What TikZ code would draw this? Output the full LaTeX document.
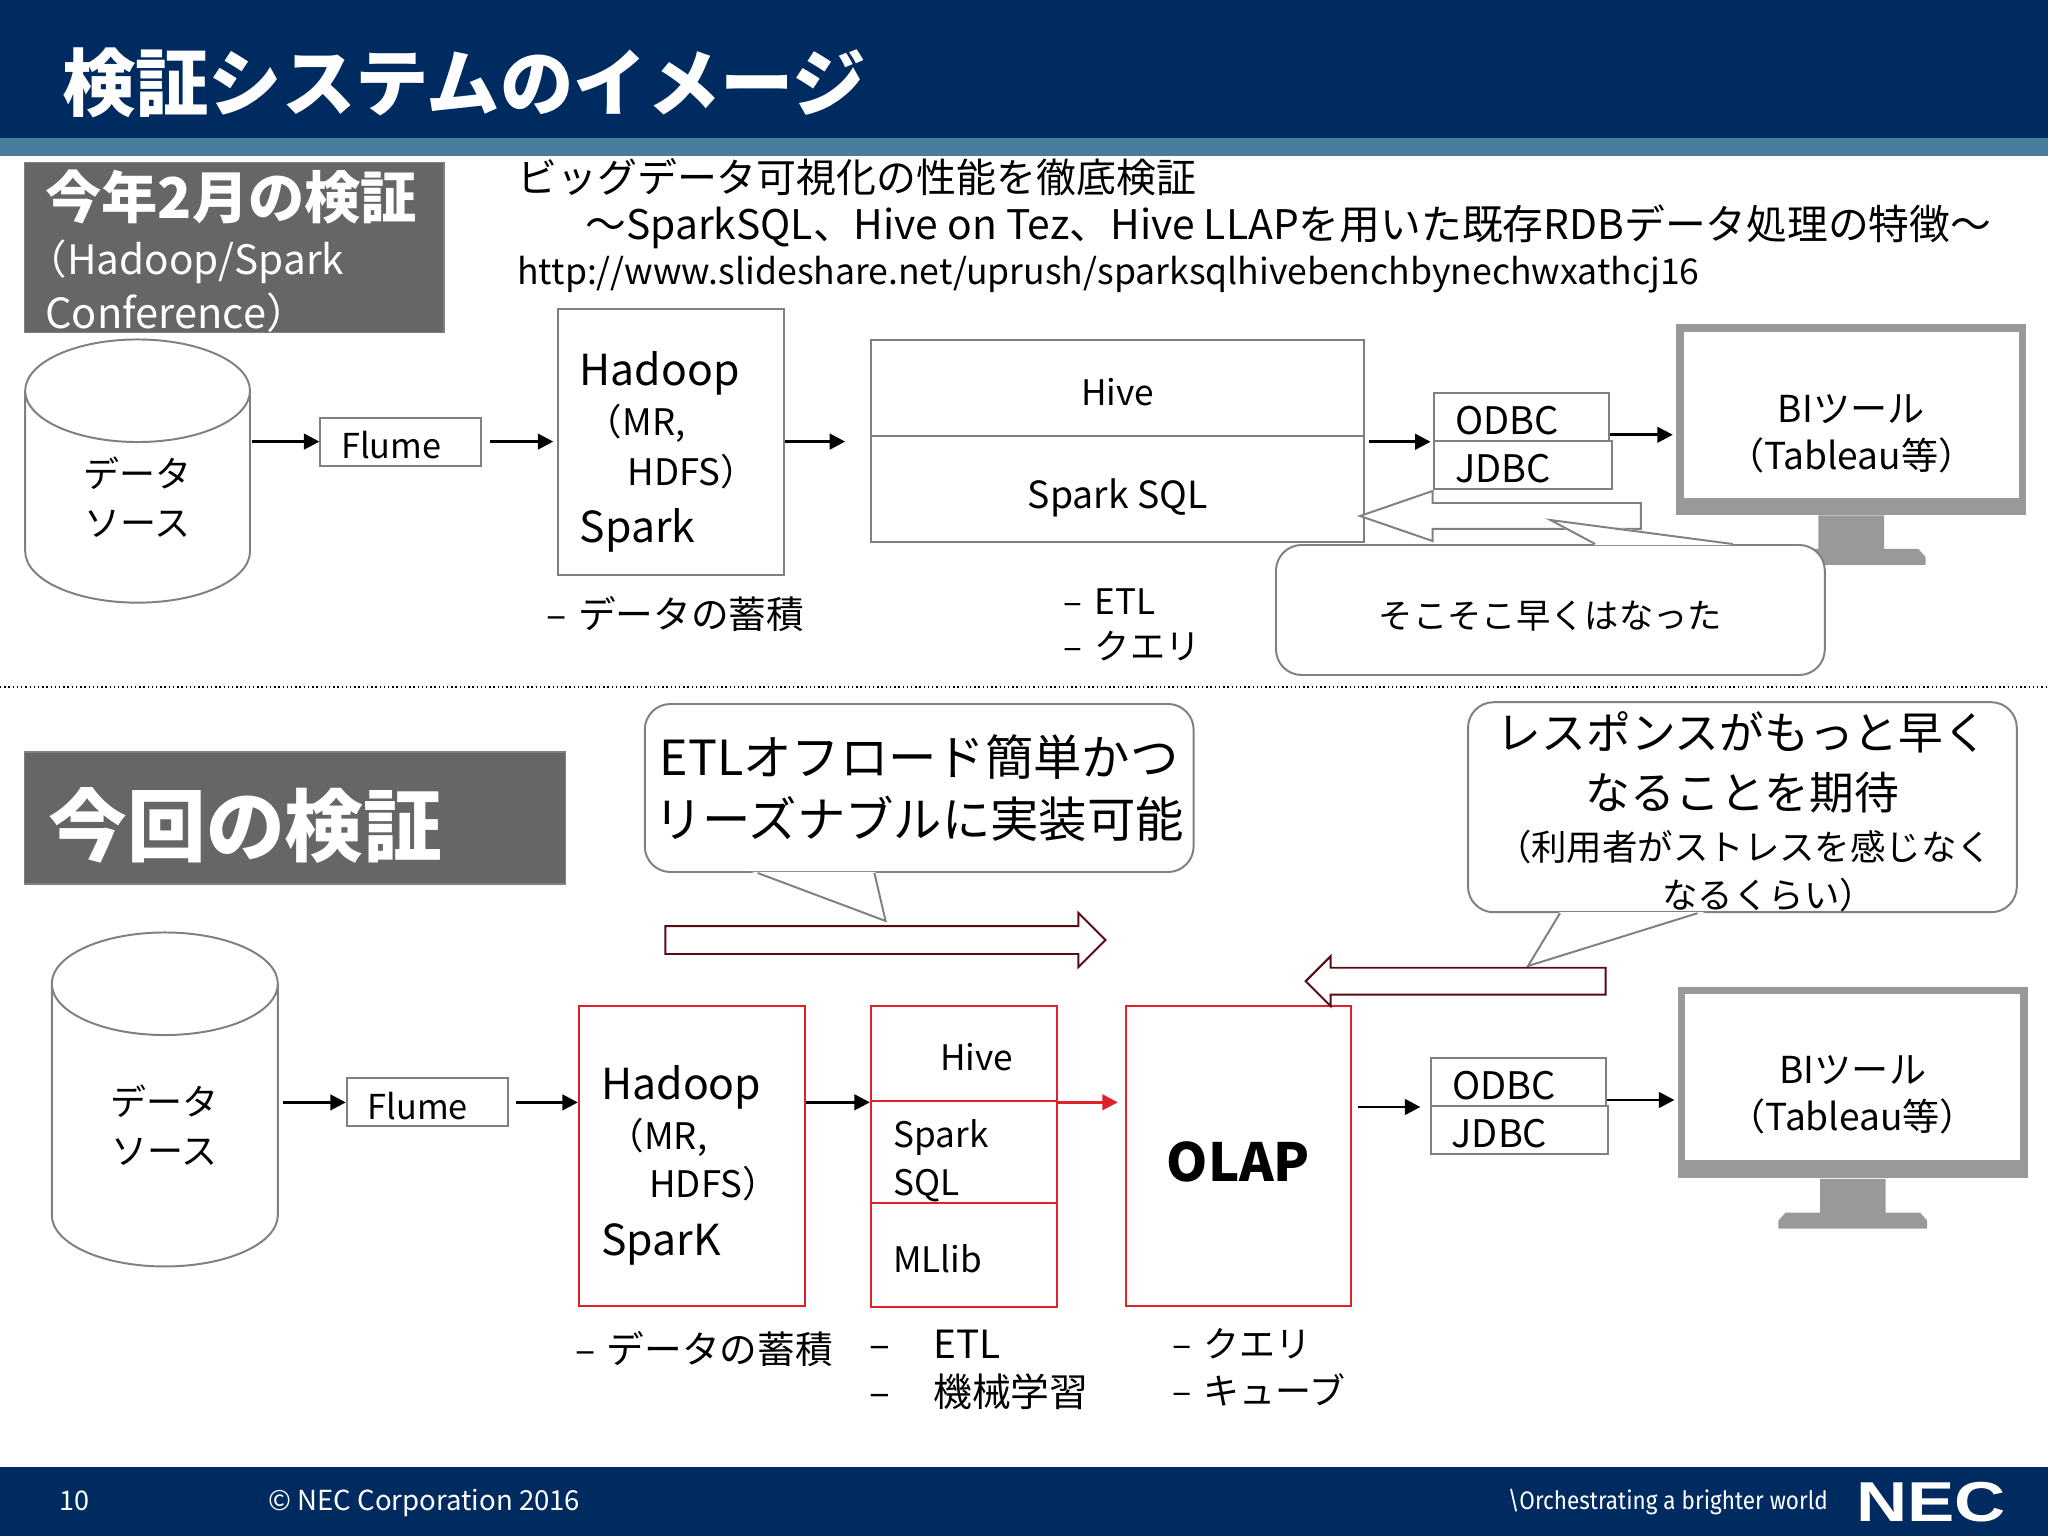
\documentclass[tikz,border=0pt]{standalone}
\usepackage{fontspec}
\setmainfont{Noto Sans CJK JP}
\newfontfamily\logofont{Liberation Sans}
\newfontfamily\slogfont{Fira Sans}
\usetikzlibrary{shapes.geometric, shapes.arrows, arrows.meta}
\definecolor{navyBar}{HTML}{002B60}
\definecolor{steelBar}{HTML}{4A7C9E}
\definecolor{slateBox}{HTML}{666666}
\definecolor{lineGray}{HTML}{808080}
\definecolor{monitorGray}{HTML}{999999}
\definecolor{lineRed}{HTML}{E0202A}
\definecolor{darkRed}{HTML}{5A0A14}
\tikzstyle{bar} = [rectangle, minimum width=25.6cm, inner sep=0pt, outer sep=0pt]
\tikzstyle{slate} = [rectangle, draw=lineGray, line width=.4pt, fill=slateBox, inner sep=0pt]
\tikzstyle{plainBox} = [rectangle, draw=lineGray, line width=.7pt, fill=white, inner sep=0pt, font=\fontsize{12.5}{16}\selectfont, align=center, text height=.43cm, text depth=0pt]
\tikzstyle{redBox} = [rectangle, draw=lineRed, line width=.8pt, fill=white, inner sep=0pt, font=\fontsize{12.5}{17}\selectfont, align=center, text height=.43cm, text depth=0pt]
\tikzstyle{tagBox} = [plainBox, inner xsep=.26cm, minimum height=.6cm, text width=1.66cm, align=left, font=\fontsize{13.5}{16}\selectfont, text height=.44cm]
\tikzstyle{flumeBox} = [tagBox, text width=1.49cm, font=\fontsize{12.2}{16}\selectfont, text height=.42cm]
\tikzstyle{stackBox} = [redBox, inner xsep=.275cm, text width=1.775cm, align=left]
\tikzstyle{database} = [cylinder, shape border rotate=90, aspect=.95, draw=lineGray, line width=.7pt, fill=white, inner sep=0pt, font=\fontsize{12.8}{17.4}\selectfont, align=center]
\tikzstyle{monitor} = [rectangle, fill=monitorGray, inner sep=0pt, minimum width=4.375cm, minimum height=2.39cm]
\tikzstyle{screen} = [rectangle, fill=white, inner sep=0pt, minimum width=4.19cm, minimum height=2.07cm]
\tikzstyle{biText} = [inner sep=0pt, font=\fontsize{13.2}{17}\selectfont, align=center]
\tikzstyle{bubble} = [rectangle, rounded corners=.32cm, draw=lineGray, line width=.7pt, fill=white, inner sep=0pt, minimum width=6.86cm, align=center]
\tikzstyle{hollowArrow} = [single arrow, single arrow head indent=0pt, fill=white, inner sep=0pt, line width=.7pt]
\tikzstyle{bodyText} = [inner sep=0pt, anchor=west, align=left, font=\fontsize{12.5}{16}\selectfont]
\tikzstyle{bigText} = [inner sep=0pt, anchor=west, font=\fontsize{15.2}{18}\selectfont]
\tikzstyle{smallText} = [inner sep=0pt, anchor=west, font=\fontsize{13}{16}\selectfont]
\tikzstyle{arrow} = [-{Triangle[length=5.5pt,width=5.5pt]}, line width=1pt]
\begin{document}
\begin{tikzpicture}[node distance=2cm]
\useasboundingbox (0,0) rectangle (25.6,-19.2);

\node (titleBar) [bar, fill=navyBar, minimum height=1.725cm, xshift=12.8cm, yshift=-.8625cm] {};
\node (bandBar) [bar, fill=steelBar, minimum height=.225cm, below of=titleBar, yshift=1.025cm] {};
\node (footerBar) [bar, fill=navyBar, minimum height=.8625cm, xshift=12.8cm, yshift=-18.77cm] {};
\node (titleText) [inner sep=0pt, anchor=west, text=white, xshift=.77cm, yshift=-1.03cm, font=\fontsize{26.1}{30}\selectfont\bfseries] {検証システムのイメージ};

% Feb test
\node (slateOld) [slate, minimum width=5.24cm, minimum height=2.125cm, xshift=2.93cm, yshift=-3.09cm] {};
\node (slateOldTitle) [left of=slateOld, inner sep=0pt, anchor=west, text=white, xshift=-.37cm, yshift=.625cm, font=\fontsize{20}{24}\selectfont\bfseries] {今年2月の検証};
\node (slateOldSub) [left of=slateOld, inner sep=0pt, anchor=west, text=white, xshift=-.6cm, yshift=-.18cm, font=\fontsize{14.4}{18}\selectfont] {（Hadoop/Spark};
\node (slateOldConf) [left of=slateOld, inner sep=0pt, anchor=west, text=white, xshift=-.37cm, yshift=-.82cm, font=\fontsize{14.8}{18}\selectfont] {Conference）};

\node (refLine1) [inner sep=0pt, anchor=west, xshift=6.46cm, yshift=-2.21cm, font=\fontsize{14.2}{18}\selectfont] {ビッグデータ可視化の性能を徹底検証};
\node (refLine2) [inner sep=0pt, anchor=west, xshift=7.31cm, yshift=-2.84cm, font=\fontsize{14.5}{18}\selectfont] {～SparkSQL、Hive on Tez、Hive LLAPを用いた既存RDBデータ処理の特徴～};
\node (refLine3) [inner sep=0pt, anchor=west, xshift=6.46cm, yshift=-3.43cm, font=\fontsize{12.65}{16}\selectfont] {http://www.slideshare.net/uprush/sparksqlhivebenchbynechwxathcj16};

\node (dbOld) [database, minimum width=2.81cm, minimum height=3.29cm, xshift=1.72cm, yshift=-6.215cm] {データ\\ソース};
\node (flumeOld) [flumeBox, right of=dbOld, xshift=1.29cm, yshift=.695cm] {Flume};
\node (hadoopOld) [plainBox, minimum width=2.825cm, minimum height=3.325cm, right of=flumeOld, xshift=1.38cm] {};
\node (hadoopOldName) [left of=hadoopOld, bigText, xshift=.85cm, yshift=.85cm] {Hadoop};
\node (hadoopOldMr) [left of=hadoopOld, smallText, xshift=.925cm, yshift=.23cm] {（MR,};
\node (hadoopOldHdfs) [left of=hadoopOld, smallText, xshift=1.45cm, yshift=-.37cm] {HDFS）};
\node (hadoopOldSpark) [left of=hadoopOld, bigText, xshift=.85cm, yshift=-1.11cm] {Spark};
\node (hiveOld) [plainBox, minimum width=6.16cm, minimum height=1.2cm, right of=hadoopOld, xshift=3.58cm, yshift=.67cm] {Hive};
\node (sparkSqlOld) [plainBox, minimum width=6.16cm, minimum height=1.325cm, below of=hiveOld, yshift=.74cm, font=\fontsize{13.3}{16}\selectfont, text height=.5cm] {Spark SQL};
\node (odbcOld) [tagBox, right of=hiveOld, xshift=3.05cm, yshift=-.36cm] {ODBC};
\node (jdbcOld) [tagBox, text width=1.7cm, below of=odbcOld, xshift=.02cm, yshift=1.4cm] {JDBC};
\node (monitorOld) [monitor, right of=odbcOld, xshift=2.12cm, yshift=-.03cm] {};
\node (screenOld) [screen, below of=monitorOld, yshift=2.056cm] {};
\node (biOld) [biText, below of=screenOld, yshift=1.76cm] {BIツール\\（Tableau等）};
\fill [monitorGray] ([xshift=-.41cm]monitorOld.south) -- ++(0,-.42) -- ++(-.43,0) -- ++(-.09,-.1) -- ++(0,-.1) -- ++(1.86,0) -- ++(0,.1) -- ++(-.09,.1) -- ++(-.43,0) -- ++(0,.42) -- cycle;

\node (backArrowOld) [hollowArrow, draw=lineGray, shape border rotate=180, inner ysep=.15cm, minimum height=3.51cm, single arrow head extend=.15cm, single arrow tip angle=38, right of=sparkSqlOld, xshift=3.02cm, yshift=-.34cm] {};
\node (bubbleOld) [bubble, minimum height=1.625cm, right of=sparkSqlOld, xshift=3.41cm, yshift=-1.515cm, font=\fontsize{12.2}{16}\selectfont, text height=.45cm, text depth=0pt] {そこそこ早くはなった};
\filldraw [white, line width=.8pt] ([xshift=.56cm]bubbleOld.north) -- ([yshift=.3cm]bubbleOld.north) -- ([xshift=2.28cm]bubbleOld.north) -- cycle;
\draw [lineGray, line width=.7pt] ([xshift=.56cm]bubbleOld.north) -- ([yshift=.3cm]bubbleOld.north) -- ([xshift=2.28cm]bubbleOld.north);

\node (storeOld) [below of=hadoopOld, bodyText, xshift=-1.56cm, yshift=-.16cm, font=\fontsize{13.4}{17}\selectfont] {\makebox[.39cm][l]{–}データの蓄積};
\node (etlOld) [below of=sparkSqlOld, bodyText, xshift=-.68cm, yshift=.3cm] {\makebox[.39cm][l]{–}ETL\\\makebox[.39cm][l]{–}クエリ};

\draw [arrow, shorten <=.3pt] (dbOld.east |- flumeOld.west) -- (flumeOld.west);
\draw [arrow, shorten <=2.8pt, shorten >=1.4pt] (flumeOld.east) -- (flumeOld.east -| hadoopOld.west);
\draw [arrow, shorten >=8.9pt] (hadoopOld.east) -- (hadoopOld.east -| hiveOld.west);
\draw [arrow, shorten <=1.4pt, shorten >=1pt] (hiveOld.south east |- odbcOld.south west) -- (odbcOld.south west);
\draw [arrow, shorten >=1pt] ([yshift=.0875cm]odbcOld.south east) -- ([yshift=.0875cm]odbcOld.south east -| monitorOld.west);

\node (sepLeft) [coordinate, yshift=-8.59cm] {};
\node (sepRight) [coordinate, right of=sepLeft, xshift=23.6cm] {};
\draw [densely dotted, line width=.5pt] (sepLeft) -- (sepRight);

% this test
\node (slateNew) [slate, minimum width=6.76cm, minimum height=1.65cm, xshift=3.69cm, yshift=-10.225cm] {};
\node (slateNewTitle) [left of=slateNew, inner sep=0pt, anchor=west, text=white, xshift=-1.09cm, yshift=-.09cm, font=\fontsize{28}{32}\selectfont\bfseries] {今回の検証};

\node (dbNew) [database, minimum width=2.825cm, minimum height=4.175cm, xshift=2.06cm, yshift=-14.07cm] {データ\\ソース};
\node (flumeNew) [flumeBox, right of=dbNew, xshift=1.28cm, yshift=.29cm] {Flume};
\node (hadoopNew) [redBox, minimum width=2.825cm, minimum height=3.75cm, right of=flumeNew, xshift=1.31cm, yshift=-.67cm] {};
\node (hadoopNewName) [left of=hadoopNew, bigText, xshift=.86cm, yshift=.86cm] {Hadoop};
\node (hadoopNewMr) [left of=hadoopNew, smallText, xshift=.94cm, yshift=.23cm] {（MR,};
\node (hadoopNewHdfs) [left of=hadoopNew, smallText, xshift=1.46cm, yshift=-.34cm] {HDFS）};
\node (hadoopNewSpark) [left of=hadoopNew, bigText, xshift=.86cm, yshift=-1.11cm] {SparK};
\node (hiveNew) [stackBox, minimum height=1.19cm, right of=hadoopNew, xshift=1.4cm, yshift=1.28cm] {\hspace*{.59cm}Hive};
\node (sparkSqlNew) [redBox, minimum width=2.325cm, minimum height=1.275cm, below of=hiveNew, yshift=.77cm] {};
\node (sparkSqlNewText) [left of=sparkSqlNew, bodyText, xshift=1.11cm, yshift=-.11cm, font=\fontsize{12.5}{17}\selectfont] {Spark\\SQL};
\node (mllibNew) [stackBox, minimum height=1.3cm, below of=sparkSqlNew, yshift=.71cm] {MLlib};
\node (olapNew) [redBox, minimum width=2.81cm, minimum height=3.75cm, right of=sparkSqlNew, xshift=1.43cm, yshift=-.05cm, font=\fontsize{18.7}{22}\selectfont\bfseries, text height=.64cm] {OLAP};
\node (odbcNew) [tagBox, right of=olapNew, xshift=1.5cm, yshift=.925cm] {ODBC};
\node (jdbcNew) [tagBox, text width=1.69cm, below of=odbcNew, xshift=.01cm, yshift=1.4cm] {JDBC};
\node (monitorNew) [monitor, right of=odbcNew, xshift=2.18cm, yshift=-.01cm] {};
\node (screenNew) [screen, below of=monitorNew, yshift=2.07cm] {};
\node (biNew) [biText, below of=screenNew, yshift=1.78cm] {BIツール\\（Tableau等）};
\fill [monitorGray] ([xshift=-.41cm]monitorNew.south) -- ++(0,-.42) -- ++(-.43,0) -- ++(-.09,-.1) -- ++(0,-.1) -- ++(1.86,0) -- ++(0,.1) -- ++(-.09,.1) -- ++(-.43,0) -- ++(0,.42) -- cycle;

\node (bubbleEtl) [bubble, minimum height=2.1cm, right of=slateNew, xshift=5.8cm, yshift=.375cm, font=\fontsize{17.2}{22}\selectfont] {ETLオフロード簡単かつ\\リーズナブルに実装可能};
\filldraw [white, line width=.8pt] ([xshift=-2.02cm]bubbleEtl.south) -- ([xshift=-.42cm,yshift=-.6cm]bubbleEtl.south) -- ([xshift=-.56cm]bubbleEtl.south) -- cycle;
\draw [lineGray, line width=.7pt] ([xshift=-2.02cm]bubbleEtl.south) -- ([xshift=-.42cm,yshift=-.6cm]bubbleEtl.south) -- ([xshift=-.56cm]bubbleEtl.south);
\node (forwardArrow) [hollowArrow, draw=darkRed, inner ysep=.1625cm, minimum height=5.5cm, single arrow head extend=.1625cm, single arrow tip angle=90, below of=bubbleEtl, xshift=-.51cm, yshift=.1cm] {};

\node (bubbleResp) [bubble, minimum height=2.625cm, right of=bubbleEtl, xshift=8.29cm, yshift=-.24cm] {};
\filldraw [white, line width=.8pt] ([xshift=-2.28cm]bubbleResp.south) -- ([xshift=-2.68cm,yshift=-.66cm]bubbleResp.south) -- ([xshift=-.56cm]bubbleResp.south) -- cycle;
\draw [lineGray, line width=.7pt] ([xshift=-2.28cm]bubbleResp.south) -- ([xshift=-2.68cm,yshift=-.66cm]bubbleResp.south) -- ([xshift=-.56cm]bubbleResp.south);
\node (respBig) [above of=bubbleResp, inner sep=0pt, align=center, yshift=-1.44cm, font=\fontsize{15.9}{21}\selectfont] {レスポンスがもっと早く\\なることを期待};
\node (respSmall) [below of=bubbleResp, inner sep=0pt, align=center, xshift=.02cm, yshift=1.2cm, font=\fontsize{12.6}{17}\selectfont] {（利用者がストレスを感じなく\\\hspace*{.62cm}なるくらい）};
\node (backArrowNew) [hollowArrow, draw=darkRed, shape border rotate=180, inner ysep=.156cm, minimum height=3.75cm, single arrow head extend=.144cm, single arrow tip angle=90, below of=bubbleResp, xshift=-3.5cm, yshift=-.175cm] {};

\node (storeNew) [below of=hadoopNew, bodyText, xshift=-1.46cm, yshift=-.41cm, font=\fontsize{13.4}{17}\selectfont] {\makebox[.39cm][l]{–}データの蓄積};
\node (etlNew) [below of=mllibNew, bodyText, xshift=-1.19cm, yshift=.57cm, font=\fontsize{13.8}{17}\selectfont] {\makebox[.8cm][l]{–}ETL\\\makebox[.8cm][l]{–}機械学習};
\node (olapCaption) [below of=olapNew, bodyText, xshift=-.83cm, yshift=-.64cm, font=\fontsize{12.8}{17}\selectfont] {\makebox[.39cm][l]{–}クエリ\\\makebox[.39cm][l]{–}キューブ};

\draw [arrow, shorten <=1.4pt] (dbNew.east |- flumeNew.west) -- (flumeNew.west);
\draw [arrow, shorten <=2.5pt] (flumeNew.east) -- (flumeNew.east -| hadoopNew.west);
\draw [arrow] (hadoopNew.east |- hiveNew.south west) -- (hiveNew.south west);
\draw [arrow, lineRed, shorten >=2.5pt] (hiveNew.south east) -- (hiveNew.south east -| olapNew.west);
\draw [arrow, shorten <=2pt, shorten >=3.5pt] (olapNew.east |- odbcNew.south west) -- (odbcNew.south west);
\draw [arrow, shorten >=1pt] ([yshift=.0875cm]odbcNew.south east) -- ([yshift=.0875cm]odbcNew.south east -| monitorNew.west);

% footer
\node (pageNum) [inner sep=0pt, anchor=west, text=white, xshift=.74cm, yshift=-18.76cm, font=\fontsize{9.6}{12}\selectfont] {10};
\node (copyNote) [inner sep=0pt, anchor=west, text=white, xshift=3.35cm, yshift=-18.79cm, font=\fontsize{9.8}{12}\selectfont] {© NEC Corporation 2016};
\node (slogan) [inner sep=0pt, anchor=west, text=white, xshift=18.84cm, yshift=-18.78cm, font=\slogfont\fontsize{9}{12}\selectfont] {\scalebox{.89}[1]{\textbackslash Orchestrating a brighter world}};
\node (necLogo) [inner sep=0pt, anchor=west, text=white, xshift=23.2cm, yshift=-18.78cm, font=\logofont\bfseries\fontsize{20}{24}\selectfont] {\scalebox{1.26}[1]{NEC}};
\end{tikzpicture}
\end{document}
